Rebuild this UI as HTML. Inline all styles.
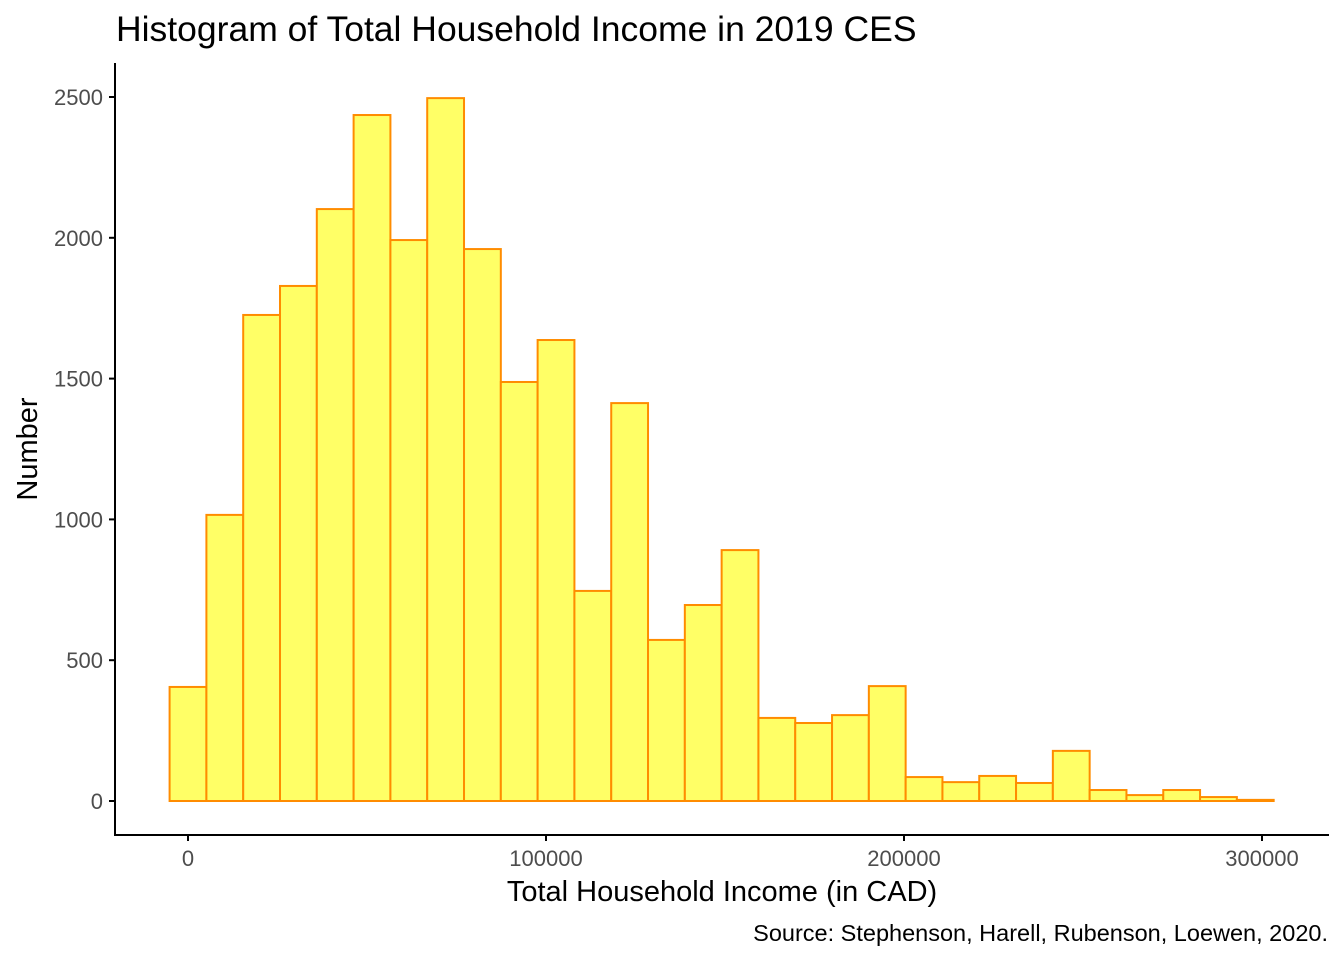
<!DOCTYPE html>
<html><head><meta charset="utf-8"><style>
html,body{margin:0;padding:0;background:#fff;}
svg text{font-family:"Liberation Sans",sans-serif;}
</style></head><body>
<svg id="chart" width="1344" height="960" xmlns="http://www.w3.org/2000/svg">
<rect width="1344" height="960" fill="#fff"/>
<text x="116" y="41" font-size="35.5" fill="#000">Histogram of Total Household Income in 2019 CES</text>
<g id="bars"></g>
<g id="axes"></g>
<text x="722" y="901" font-size="29" text-anchor="middle" fill="#000">Total Household Income (in CAD)</text>
<text transform="translate(37,449) rotate(-90)" font-size="29" text-anchor="middle" fill="#000">Number</text>
<text x="1328" y="941" font-size="23.5" text-anchor="end" fill="#000">Source: Stephenson, Harell, Rubenson, Loewen, 2020.</text>
</svg>
<script>
const binWidth = 10280;
const counts = [405,1016,1726,1829,2102,2436,1992,2496,1960,1488,1637,746,1413,572,696,891,295,277,305,408,85,67,89,64,178,39,21,39,14,4];
const xTicks = [0,100000,200000,300000];
const xTickLabels = ["0","100000","200000","300000"];
const yTicks = [0,500,1000,1500,2000,2500];
const yTickLabels = ["0","500","1000","1500","2000","2500"];

const NS="http://www.w3.org/2000/svg";
const xs = v => 188 + v*358/100000;
const ys = v => 801 - v*704/2500;
const bars=document.getElementById('bars');
counts.forEach((c,i)=>{
  const r=document.createElementNS(NS,'rect');
  const x0=xs(i*binWidth-binWidth/2), x1=xs(i*binWidth+binWidth/2);
  r.setAttribute('x',x0);r.setAttribute('width',x1-x0);
  r.setAttribute('y',ys(c));r.setAttribute('height',ys(0)-ys(c));
  r.setAttribute('fill','#ffff66');r.setAttribute('stroke','#ff8c00');r.setAttribute('stroke-width','2');
  
  
  bars.appendChild(r);
});
const axes=document.getElementById('axes');
function line(x1,y1,x2,y2,name){
  const l=document.createElementNS(NS,'line');
  l.setAttribute('x1',x1);l.setAttribute('y1',y1);l.setAttribute('x2',x2);l.setAttribute('y2',y2);
  l.setAttribute('stroke','#000');l.setAttribute('stroke-width','2');
  
  
  axes.appendChild(l);
}
function text(x,y,s,anchor,name){
  const t=document.createElementNS(NS,'text');
  t.setAttribute('x',x);t.setAttribute('y',y);t.setAttribute('text-anchor',anchor);
  t.setAttribute('font-size','22');t.setAttribute('fill','#4d4d4d');t.textContent=s;
  
  
  axes.appendChild(t);
}
line(115,63,115,836,'y-axis-line');
line(114,835,1329,835,'x-axis-line');
yTicks.forEach((v,i)=>{line(109,ys(v),115,ys(v),'y-tick');text(103,ys(v)+8,yTickLabels[i],'end','y-tick-label');});
xTicks.forEach((v,i)=>{line(xs(v),835,xs(v),841,'x-tick');text(xs(v),866,xTickLabels[i],'middle','x-tick-label');});
</script>
</body></html>
